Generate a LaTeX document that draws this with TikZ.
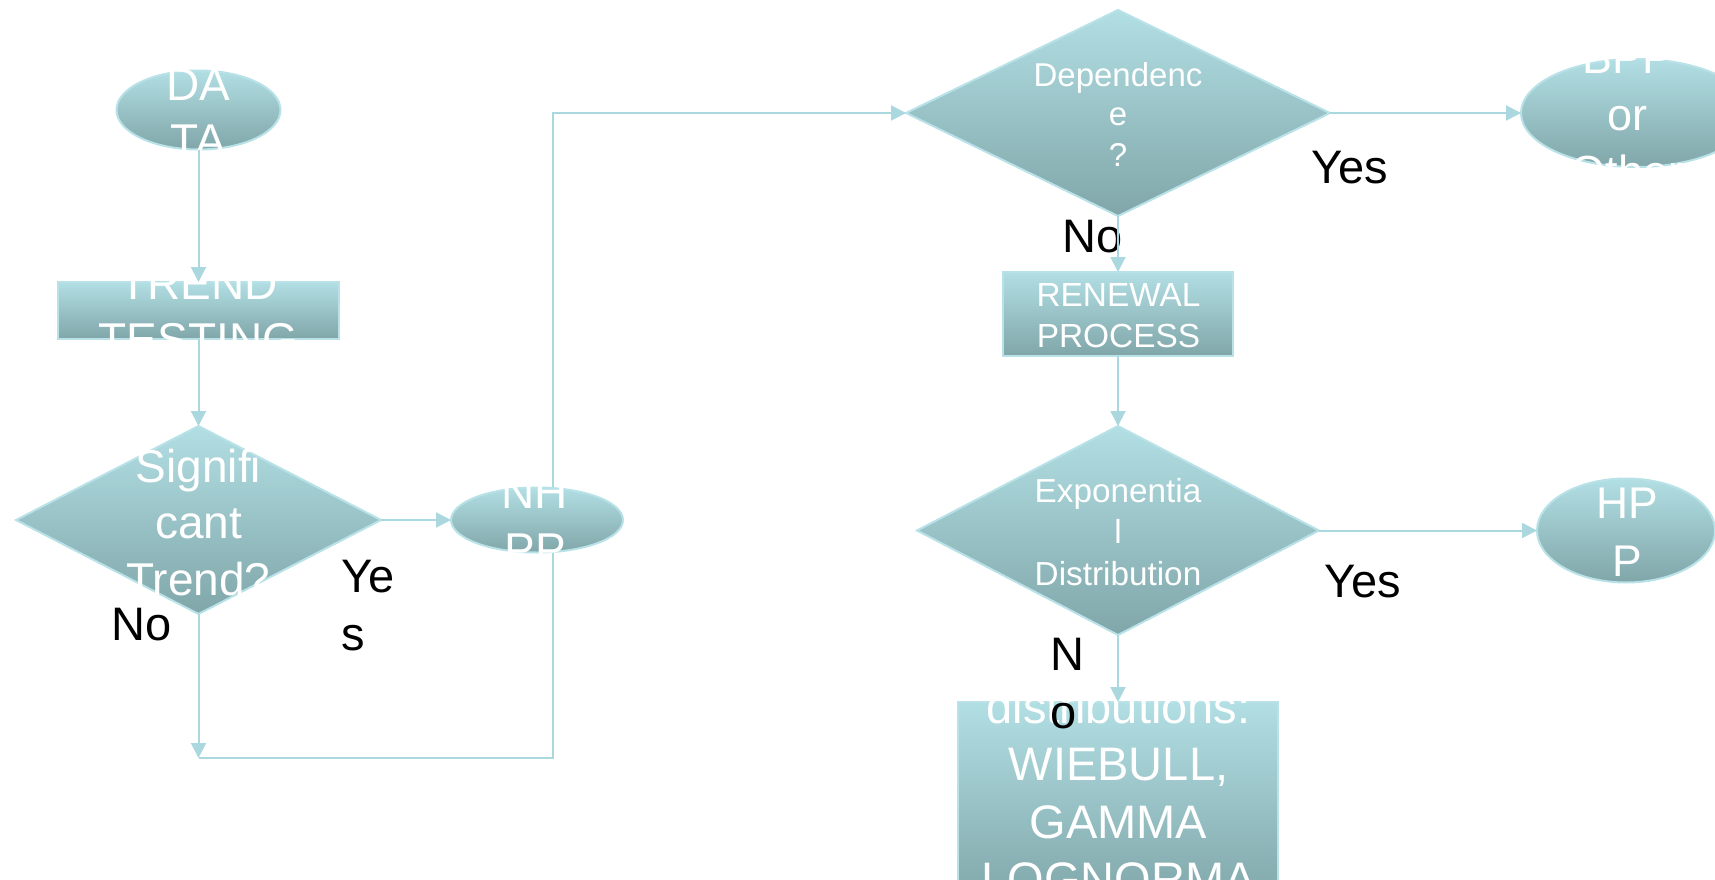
\documentclass[tikz,border=0pt]{standalone}
\usepackage{fontspec}
\setmainfont{Liberation Sans}
\usetikzlibrary{shapes.geometric,arrows.meta}

\definecolor{filltop}{RGB}{178,223,228}
\definecolor{fillbot}{RGB}{128,166,169}
\definecolor{edgecol}{RGB}{184,226,231}
\definecolor{linkcol}{RGB}{170,216,222}

\newcommand{\tsize}[2]{\fontsize{#1}{#2}\selectfont}

\tikzset{
  shapebox/.style={draw=edgecol, line width=2pt, top color=filltop, bottom color=fillbot,
                   inner sep=0pt, outer sep=0pt},
  ovalbox/.style={shapebox, ellipse},
  rectbox/.style={shapebox, rectangle},
  decisionbox/.style={shapebox, diamond},
  link/.style={draw=linkcol, line width=2pt, -{Triangle[length=15pt,width=15pt]}},
  boxtext/.style={text=white, inner sep=0pt, align=center},
  answer/.style={text=black, inner sep=0pt, font=\tsize{47}{58}},
  answerlines/.style={answer, align=left},
}

\begin{document}
\begin{tikzpicture}[x=1pt,y=-1pt]
\useasboundingbox (0,0) rectangle (1715,880);

% ---- shapes ----
\node[ovalbox, minimum width=164pt, minimum height=79pt] (data) at (198.5,110) {};
\node[rectbox, minimum width=281pt, minimum height=57pt] (trend) at (198.5,310.5) {};
\node[decisionbox, minimum width=365pt, minimum height=188pt] (sig) at (198.5,520) {};
\node[decisionbox, minimum width=424pt, minimum height=206pt] (dep) at (1118,113) {};
\node[rectbox, minimum width=230pt, minimum height=84pt] (renew) at (1118,314) {};
\node[decisionbox, minimum width=402pt, minimum height=209pt] (expo) at (1118,530.5) {};
\node[rectbox, minimum width=320pt, minimum height=200pt] (dist) at (1118,802) {};
\node[ovalbox, minimum width=230pt, minimum height=108pt] (bpp) at (1636,113) {};
\node[ovalbox, minimum width=178pt, minimum height=104pt] (hpp) at (1626,530.5) {};

% ---- return path, running behind the NHPP oval ----
\coordinate (j) at (198.5,758);
\coordinate (k) at (553,758);
\draw[link] (sig.south) -- (j);
\draw[link] (j) -- (k) |- (dep.west);

\node[ovalbox, minimum width=172pt, minimum height=65pt] (nhpp) at (537,520) {};

% ---- shape texts ----
\node[boxtext, font=\tsize{46}{55}] (data-t) at (198.5,117.5) {\strut DA\\\strut TA};
\node[boxtext, font=\tsize{46}{56}] (trend-t) at (198.5,315.8) {\strut TREND\\\strut TESTING};
\node[boxtext, font=\tsize{46}{56.5}] (sig-t) at (198.5,527.2) {\strut Signifi\\\strut cant\\\strut Trend?};
\node[boxtext, font=\tsize{46}{57}] (nhpp-t) at (535,526) {\strut NH\\\strut PP};
\node[boxtext, font=\tsize{33}{40}] (dep-t) at (1118,118) {\strut Dependenc\\\strut e\\\strut ?};
\node[boxtext, font=\tsize{45}{57}] (bpp-t) at (1627,118.6) {\strut BPP\\\strut or\\\strut Other};
\node[boxtext, font=\tsize{33.4}{41}] (renew-t) at (1118.5,318.3) {\strut RENEWAL\\\strut PROCESS};
\node[boxtext, font=\tsize{33.3}{41.5}] (expo-t) at (1118,535.2) {\strut Exponentia\\\strut l\\\strut Distribution};
\node[boxtext, font=\tsize{44.4}{58}] (hpp-t) at (1627,535.4) {\strut HP\\\strut P};
\node[boxtext, font=\tsize{47}{57.5}] (dist-t) at (1118.5,797.8) {\strut distributions:\\\strut WIEBULL,\\\strut GAMMA\\\strut LOGNORMA};

% ---- branch labels ----
\node[answer, anchor=base west] (no-sig) at (111,640) {No};
\node[answerlines, anchor=north west] (yes-sig) at (341,551.4) {\strut Ye\\\strut s};
\node[answer, anchor=base west] (no-dep) at (1062,252) {No};
\node[answer, anchor=base west] (yes-dep) at (1311,183) {Yes};
\node[answerlines, anchor=north west] (no-expo) at (1050,630) {\strut N\\\strut o};
\node[answer, anchor=base west] (yes-expo) at (1324,597) {Yes};

% ---- connectors ----
\draw[link] (data.south) -- (trend.north);
\draw[link] (trend.south) -- (sig.north);
\draw[link] (sig.east) -- (nhpp.west);
\draw[link] (dep.east) -- (bpp.west);
\draw[link] (dep.south) -- (renew.north);
\draw[link] (renew.south) -- (expo.north);
\draw[link] (expo.east) -- (hpp.west);
\draw[link] (expo.south) -- (dist.north);
\end{tikzpicture}
\end{document}
